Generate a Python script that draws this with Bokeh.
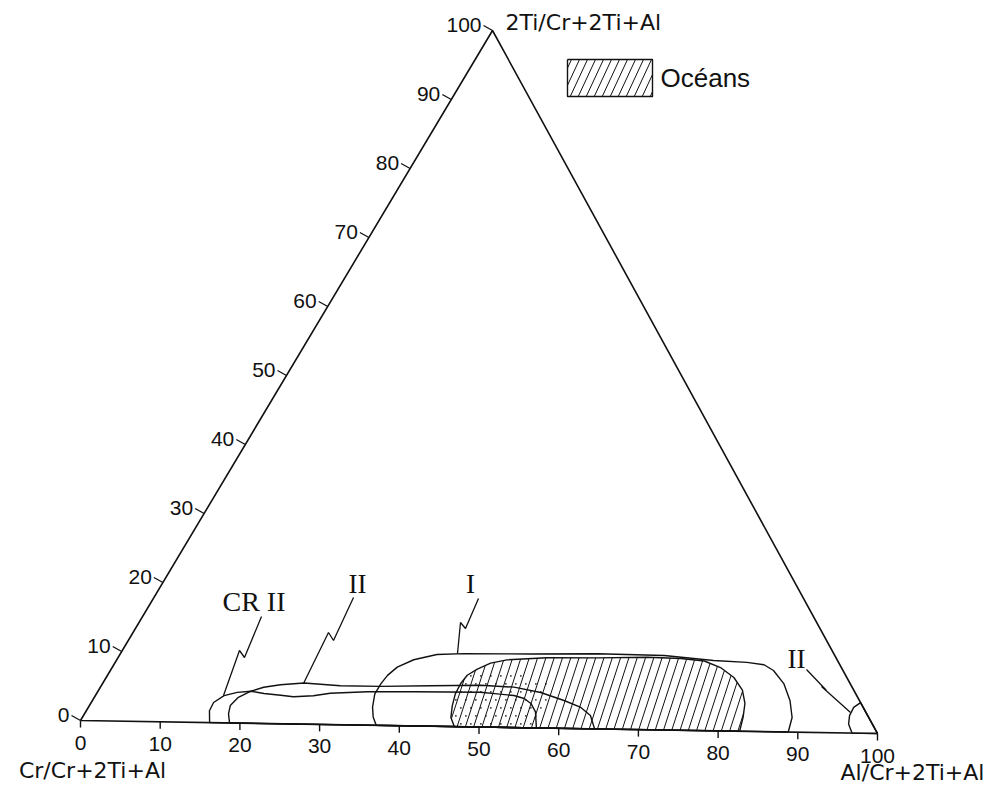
import numpy as np
from bokeh.plotting import figure
from bokeh.models import Range1d
from bokeh.embed import file_html
from bokeh.resources import INLINE
from bokeh.core.properties import value

# ---------------- data (ternary coordinates: Al %, 2Ti %) ----------------
ticks = [0, 10, 20, 30, 40, 50, 60, 70, 80, 90, 100]
tick_labels = ["0", "10", "20", "30", "40", "50", "60", "70", "80", "90", "100"]

crii_al = [16.2, 15.3, 15.2, 16.0, 17.4, 19.0, 20.8, 23.0, 24.7, 27.1, 29.0, 33.5, 39.3, 47.6, 49.8, 52.0, 53.5, 54.7, 55.9, 57.2]
crii_ti = [0.0, 1.7, 2.9, 3.9, 4.4, 4.6, 4.3, 4.1, 3.9, 4.1, 4.5, 4.8, 4.9, 5.0, 4.8, 4.6, 4.2, 3.5, 2.3, 0.0]

ii_al = [18.7, 17.9, 17.5, 17.9, 19.0, 20.3, 22.2, 25.0, 29.7, 34.8, 40.9, 47.1, 51.4, 55.1, 58.6, 61.1, 63.0, 64.5]
ii_ti = [0.0, 1.3, 2.5, 3.7, 4.6, 5.2, 5.6, 5.9, 5.6, 5.6, 5.8, 6.0, 5.8, 5.1, 4.0, 3.1, 1.9, 0.0]

i_al = [37.1, 36.1, 35.3, 34.6, 34.6, 34.8, 35.4, 36.9, 39.4, 42.7, 51.0, 59.3, 67.7, 74.2, 78.5, 80.8, 82.4, 84.7, 86.7, 88.2, 88.8]
i_ti = [0.0, 1.2, 2.6, 4.5, 6.0, 7.2, 8.4, 9.5, 10.3, 10.5, 10.6, 10.8, 10.7, 10.1, 9.9, 9.6, 8.8, 6.9, 4.5, 2.1, 0.0]

ocean_al = [46.9, 45.8, 45.1, 44.6, 44.5, 44.7, 45.5, 46.7, 48.5, 53.3, 59.6, 65.7, 70.0, 73.1, 75.6, 78.0, 80.0, 81.3, 82.1, 82.7]
ocean_ti = [0.0, 1.3, 3.0, 4.7, 6.2, 7.4, 8.3, 9.2, 9.7, 10.1, 10.2, 10.4, 10.3, 10.0, 9.1, 7.7, 5.9, 4.0, 2.0, 0.0]

stipple_al = [46.9, 45.8, 45.1, 44.6, 44.5, 44.7, 48.0, 52.0, 55.0, 56.5, 57.2]
stipple_ti = [0.0, 1.3, 3.0, 4.7, 6.2, 7.4, 7.8, 7.6, 6.5, 4.5, 0.0]

iir_al = [96.8, 95.7, 95.2, 95.1, 95.6, 100.0]
iir_ti = [0.0, 1.3, 2.5, 3.7, 4.4, 0.0]

# ---------------- layout (page pixels) ----------------
L = (80.0, 720.0)   # Cr vertex
R = (877.0, 733.0)  # Al vertex
T = (492.0, 30.0)   # 2Ti vertex


def tern(al, ti):
    a = np.asarray(al, dtype=float) / 100.0
    t = np.asarray(ti, dtype=float) / 100.0
    x = L[0] + a * (R[0] - L[0]) + t * (T[0] - L[0])
    y = L[1] + a * (R[1] - L[1]) + t * (T[1] - L[1])
    return x, y


def hatch_segments(px, py, angle_deg, spacing):
    k = 1.0 / np.tan(np.radians(angle_deg))
    px = list(px); py = list(py)
    u = [x + y * k for x, y in zip(px, py)]
    sx, sy = [], []
    c = min(u) + spacing * 0.5
    n = len(px)
    while c < max(u):
        pts = []
        for i in range(n):
            j = (i + 1) % n
            u1, u2 = u[i], u[j]
            if (u1 <= c < u2) or (u2 <= c < u1):
                f = (c - u1) / (u2 - u1)
                pts.append((px[i] + f * (px[j] - px[i]), py[i] + f * (py[j] - py[i])))
        pts.sort(key=lambda p: p[1])
        for a, b in zip(pts[0::2], pts[1::2]):
            sx.append([a[0], b[0]]); sy.append([a[1], b[1]])
        c += spacing
    return sx, sy


def inside(x, y, px, py):
    res = False
    n = len(px)
    j = n - 1
    for i in range(n):
        if ((py[i] > y) != (py[j] > y)) and (x < (px[j] - px[i]) * (y - py[i]) / (py[j] - py[i]) + px[i]):
            res = not res
        j = i
    return res


p = figure(width=989, height=789, x_range=Range1d(0, 989), y_range=Range1d(789, 0),
           output_backend="svg", toolbar_location=None, min_border=0)
p.axis.visible = False
p.grid.visible = False
p.outline_line_color = None
p.background_fill_color = "white"

INK = "#111111"
SANS = value("DejaVu Sans")
HELV = value("Liberation Sans")
SERIF = value("Liberation Serif")

# triangle
tx, ty = tern([0, 100, 0, 0], [0, 0, 100, 0])
p.line(tx, ty, line_color=INK, line_width=1.6)

# bottom axis ticks (Al)
bx, by = tern(ticks, [0] * len(ticks))
p.segment(x0=bx, y0=by, x1=bx, y1=by + 7, line_color=INK, line_width=1.4)
p.text(x=bx, y=by + 22, text=tick_labels, text_font=HELV, text_font_size="21px",
       text_align="center", text_baseline="middle", text_color=INK)

# left axis ticks (2Ti)
lx, ly = tern([0] * len(ticks), ticks)
p.segment(x0=lx - 9, y0=ly - 5, x1=lx, y1=ly, line_color=INK, line_width=1.3)
p.text(x=lx - 11, y=ly - 6, text=tick_labels, text_font=HELV, text_font_size="21px",
       text_align="right", text_baseline="middle", text_color=INK)

# axis titles
p.text(x=[505], y=[22], text=["2Ti/Cr+2Ti+Al"], text_font=SANS, text_font_size="22px",
       text_align="left", text_baseline="middle", text_color=INK)
p.text(x=[92], y=[770], text=["Cr/Cr+2Ti+Al"], text_font=SANS, text_font_size="22px",
       text_align="center", text_baseline="middle", text_color=INK)
p.text(x=[912], y=[772], text=["Al/Cr+2Ti+Al"], text_font=SANS, text_font_size="22px",
       text_align="center", text_baseline="middle", text_color=INK)

# ocean hatch
ox, oy = tern(ocean_al, ocean_ti)
hx, hy = hatch_segments(ox, oy, 72, 8.3)
p.multi_line(hx, hy, line_color=INK, line_width=1.0)

# stipple
sx_, sy_ = tern(stipple_al, stipple_ti)
dots_x, dots_y = [], []
row = 0
for yy in np.arange(min(sy_) + 3, max(sy_), 8.0):
    off = 5.0 if row % 2 else 0.0
    for xx in np.arange(min(sx_) + off, max(sx_), 10.0):
        if inside(xx, yy, list(sx_), list(sy_)):
            dots_x.append(xx); dots_y.append(yy)
    row += 1
p.scatter(dots_x, dots_y, size=1.6, color=INK, line_color=None)

# field outlines
for al, ti in [(crii_al, crii_ti), (ii_al, ii_ti), (i_al, i_ti), (ocean_al, ocean_ti), (iir_al, iir_ti)]:
    x, y = tern(al, ti)
    p.line(np.append(x, x[0]), np.append(y, y[0]), line_color=INK, line_width=1.4)

# field labels and leaders
p.text(x=[222], y=[601], text=["CR II"], text_font=SERIF, text_font_size="28px",
       text_align="left", text_baseline="middle", text_color=INK)
p.text(x=[357], y=[583], text=["II"], text_font=SERIF, text_font_size="27px",
       text_align="center", text_baseline="middle", text_color=INK)
p.text(x=[470], y=[583], text=["I"], text_font=SERIF, text_font_size="27px",
       text_align="center", text_baseline="middle", text_color=INK)
p.text(x=[796], y=[658], text=["II"], text_font=SERIF, text_font_size="27px",
       text_align="center", text_baseline="middle", text_color=INK)

leaders_x = [[261, 244, 239, 223], [353, 333, 328, 303], [478, 465, 460, 457], [806, 826, 821, 850]]
leaders_y = [[616, 657, 650, 695], [597, 640, 632, 683], [598, 628, 622, 653], [669, 690, 686, 712]]
p.multi_line(leaders_x, leaders_y, line_color=INK, line_width=1.3)

# legend
lgx = [567, 652, 652, 567]
lgy = [59, 59, 96, 96]
gx, gy = hatch_segments(lgx, lgy, 65, 8.0)
p.multi_line(gx, gy, line_color=INK, line_width=1.0)
p.line(lgx + [lgx[0]], lgy + [lgy[0]], line_color=INK, line_width=1.4)
p.text(x=[660], y=[77], text=["Océans"], text_font=HELV, text_font_size="26px",
       text_align="left", text_baseline="middle", text_color=INK)

open("out.html", "w").write(file_html(p, INLINE))
